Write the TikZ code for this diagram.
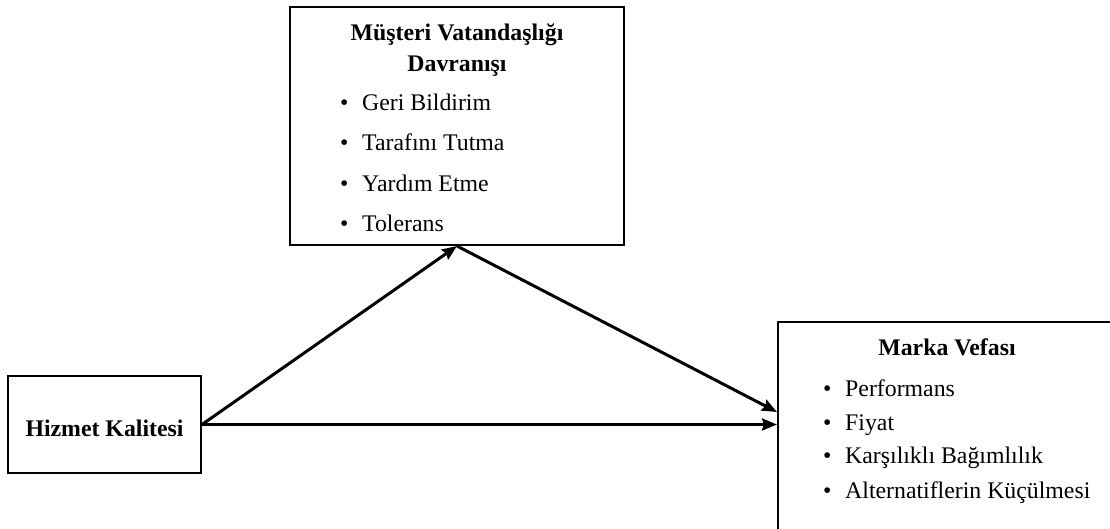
\documentclass[tikz,border=0pt]{standalone}
\usepackage{fontspec}
\setmainfont{Liberation Serif}
\usetikzlibrary{arrows.meta,positioning,calc}
\tikzstyle{box} = [rectangle, draw, line width=2pt, inner sep=0pt]
\tikzstyle{title} = [font=\fontsize{23.8}{28}\selectfont\bfseries, anchor=base, inner sep=0pt]
\tikzstyle{item} = [font=\fontsize{23.8}{28}\selectfont, anchor=base west, inner sep=0pt]
\tikzstyle{arrow} = [line width=3pt,->,>={Stealth[length=15pt,width=12pt,inset=2pt]}]

\newcommand{\itm}[1]{\makebox[22pt][l]{\textbullet}#1}

\begin{document}
\begin{tikzpicture}[x=1pt,y=-1pt]
  \clip (0,0) rectangle (1110,528);
  \useasboundingbox (0,0) rectangle (1110,528);

  % boxes
  \node[box, minimum width=334pt, minimum height=238pt] (mvd) at (457,126) {};
  \node[box, minimum width=193pt, minimum height=97pt] (hk) at (104.5,424.5) {};
  \node[box, minimum width=340pt, minimum height=214pt, anchor=north west] (mv) at (777,321) {};

  % top box
  \node[title] (mvdt1) at (457,40) {Müşteri Vatandaşlığı};
  \node[title] (mvdt2) at (457,71) {Davranışı};
  \node[item] (mvd1) at (340,110) {\itm{Geri Bildirim}};
  \node[item] (mvd2) at (340,150) {\itm{Tarafını Tutma}};
  \node[item] (mvd3) at (340,191) {\itm{Yardım Etme}};
  \node[item] (mvd4) at (340,231) {\itm{Tolerans}};

  % left box
  \node[title] (hkt) at (104.5,436) {Hizmet Kalitesi};

  % right box
  \node[title] (mvt) at (947,355) {Marka Vefası};
  \node[item] (mv1) at (823,396) {\itm{Performans}};
  \node[item] (mv2) at (823,430) {\itm{Fiyat}};
  \node[item] (mv3) at (823,463) {\itm{Karşılıklı Bağımlılık}};
  \node[item] (mv4) at (823,498) {\itm{Alternatiflerin Küçülmesi}};

  % arrows
  \coordinate (mvin) at (777,412);
  \draw[arrow] (hk.east) -- (mvd.south);
  \draw[arrow] (mvd.south) -- (mvin);
  \draw[arrow] (hk.east) -- (hk.east -| mv.west);

\end{tikzpicture}
\end{document}
